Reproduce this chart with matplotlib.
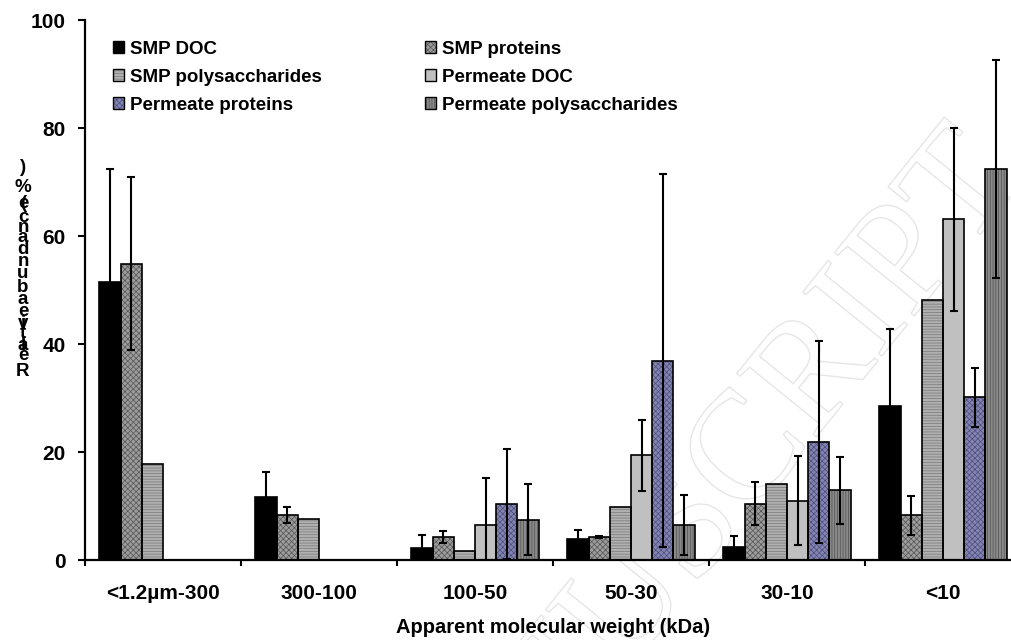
import numpy as np
import matplotlib

matplotlib.use("Agg")
import matplotlib.pyplot as plt
import matplotlib.patheffects as pe
from matplotlib.patches import Patch

plt.rcParams["font.family"] = ["Liberation Sans", "DejaVu Sans"]
plt.rcParams["font.weight"] = "bold"
plt.rcParams["axes.labelweight"] = "bold"
plt.rcParams["hatch.linewidth"] = 0.5

categories = ["<1.2µm-300", "300-100", "100-50", "50-30", "30-10", "<10"]

series_names = [
    "SMP DOC",
    "SMP proteins",
    "SMP polysaccharides",
    "Permeate DOC",
    "Permeate proteins",
    "Permeate polysaccharides",
]

nan = np.nan
smp_doc = [51.5, 11.7, 2.3, 3.8, 2.5, 28.5]
smp_doc_err = [20.9, 4.6, 2.3, 1.8, 2.0, 14.3]
smp_prot = [54.9, 8.4, 4.3, 4.3, 10.4, 8.3]
smp_prot_err = [16.1, 1.5, 1.1, 0.2, 4.0, 3.6]
smp_poly = [17.7, 7.6, 1.7, 9.9, 14.1, 48.1]
perm_doc = [nan, nan, 6.4, 19.4, 11.0, 63.1]
perm_doc_err = [nan, nan, 8.7, 6.6, 8.2, 16.9]
perm_prot = [nan, nan, 10.4, 36.9, 21.9, 30.1]
perm_prot_err = [nan, nan, 10.2, 34.5, 18.7, 5.5]
perm_poly = [nan, nan, 7.5, 6.5, 12.9, 72.4]
perm_poly_err = [nan, nan, 6.5, 5.6, 6.2, 20.1]

values = [smp_doc, smp_prot, smp_poly, perm_doc, perm_prot, perm_poly]
errors = [smp_doc_err, smp_prot_err, None, perm_doc_err, perm_prot_err, perm_poly_err]

# (face colour, hatch, hatch colour) for each series
styles = [
    ("black", None, "black"),
    ("#9c9c9c", "xxxxxx", "#555555"),
    ("#b0b0b0", "------", "#787878"),
    ("#c0c0c0", None, "#c0c0c0"),
    ("#8484b4", "xxxxxx", "#4e4e78"),
    ("#8a8a8a", "||||||", "#505050"),
]

W, H = 1012, 640
fig = plt.figure(figsize=(W / 100, H / 100), dpi=100)
ax = fig.add_axes([85 / W, 80 / H, 936 / W, 540 / H])
ax.set_facecolor("none")

x = np.arange(len(categories))
width = 0.136
handles = []
for j, (vals, errs, (fc, hatch, hc)) in enumerate(zip(values, errors, styles)):
    pos = x + (j - 2.5) * width
    vals = np.asarray(vals, dtype=float)
    ax.bar(pos, vals, width, color=fc, hatch=hatch, edgecolor=hc,
           linewidth=0, zorder=2)
    ax.bar(pos, vals, width, fill=False, edgecolor="black", linewidth=1.2,
           zorder=3)
    if errs is not None:
        ax.errorbar(pos, vals, yerr=np.asarray(errs, dtype=float), fmt="none",
                    ecolor="black", elinewidth=1.5, capsize=3, capthick=1.5,
                    zorder=4)
    handles.append((Patch(facecolor=fc, hatch=hatch, edgecolor=hc, linewidth=0),
                    Patch(fill=False, edgecolor="black", linewidth=1.0)))

ax.set_xlim(-0.5, 5.5)
ax.set_ylim(0, 100)
ax.set_yticks(np.arange(0, 101, 20))
ax.tick_params(axis="y", direction="out", length=5, width=1.5, pad=9,
               labelsize=15)
ax.set_xticks(np.arange(-0.5, 6, 1.0))
ax.set_xticklabels([])
ax.tick_params(axis="x", which="major", direction="out", length=4, width=1.5)
ax.set_xticks(x, minor=True)
ax.set_xticklabels(categories, minor=True)
ax.tick_params(axis="x", which="minor", length=0, pad=17, labelsize=15)
for s in ("top", "right"):
    ax.spines[s].set_visible(False)
for s in ("left", "bottom"):
    ax.spines[s].set_linewidth(1.6)

ax.set_xlabel("Apparent molecular weight (kDa)", fontsize=14.5,
              fontweight="bold", labelpad=11)

# y label drawn as stacked upright characters (pixel centres from the top)
ylab = "Relative abundance (%)"
char_y = [372, 356, 346, 346, 333, 323, 323, 312, 306, 300, 287, 273, 261,
          249, 237, 227, 217, 204, 204, 204, 187, 168]
for ch, cy in zip(ylab, char_y):
    if ch == " ":
        continue
    fig.text(23 / W, 1 - cy / H, ch, fontsize=13.5, ha="center", va="center")

order = [0, 2, 4, 1, 3, 5]
ax.legend([handles[i] for i in order], [series_names[i] for i in order],
          ncol=2, loc="upper left", bbox_to_anchor=(113 / W, 1 - 41 / H),
          bbox_transform=fig.transFigure, frameon=False, fontsize=13.5,
          handlelength=0.6, handleheight=0.6, handletextpad=0.3,
          labelspacing=0.58, columnspacing=5.5, borderpad=0,
          borderaxespad=0)

# faint diagonal watermark behind the plot
fig.text(680 / W, 1 - 545 / H, "MANUSCRIPT", fontsize=112, family="Liberation Serif",
         fontweight="normal", color="white", rotation=51, rotation_mode="anchor",
         ha="center", va="center", zorder=-1,
         path_effects=[pe.Stroke(linewidth=1.0, foreground="#e6e6e6")])

fig.savefig("out.png", dpi=100)
